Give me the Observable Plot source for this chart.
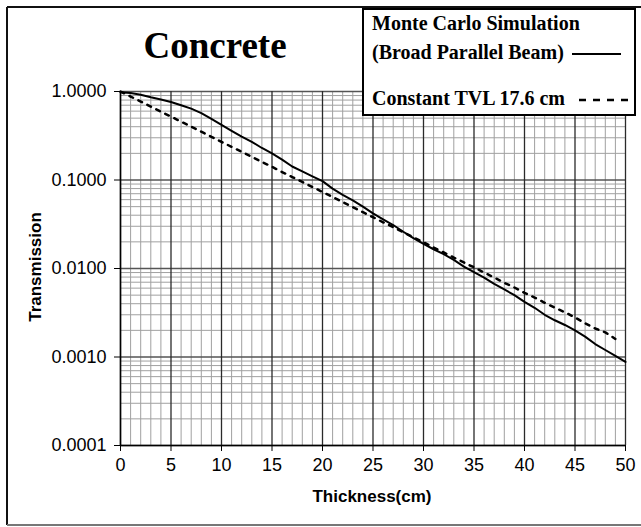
<!DOCTYPE html>
<html><head><meta charset="utf-8">
<script src="https://cdn.jsdelivr.net/npm/d3@7"></script>
<script src="https://cdn.jsdelivr.net/npm/@observablehq/plot@0.6"></script>
<style>
html,body{margin:0;padding:0;background:#fff;}
#chart{position:relative;width:641px;height:527px;overflow:hidden;}
</style></head><body><div id="chart"></div>
<script>
// Monte Carlo Simulation (Broad Parallel Beam)
const mcThickness = [0,1,2,3,4,5,6,7,8,9,10,11,12,13,14,15,16,17,18,19,20,21,22,23,24,25,26,27,28,29,30,31,32,33,34,35,36,37,38,39,40,41,42,43,44,45,46,47,48,49,50];
const mcTransmission = [0.98,0.96,0.92,0.86,0.81,0.76,0.70,0.64,0.57,0.49,0.42,0.36,0.31,0.27,0.23,0.20,0.17,0.142,0.125,0.11,0.097,0.08,0.068,0.059,0.05,0.042,0.036,0.031,0.026,0.022,0.019,0.0165,0.0145,0.0125,0.0105,0.0091,0.0079,0.0067,0.0058,0.005,0.0042,0.0036,0.003,0.0026,0.0023,0.002,0.0017,0.0014,0.0012,0.00103,0.00088];
// Constant TVL 17.6 cm
const tvlThickness = [0,1,2,3,4,5,6,7,8,9,10,11,12,13,14,15,16,17,18,19,20,21,22,23,24,25,26,27,28,29,30,31,32,33,34,35,36,37,38,39,40,41,42,43,44,45,46,47,48,49];
const tvlTransmission = [1.0,0.877,0.770,0.675,0.592,0.520,0.456,0.400,0.351,0.308,0.270,0.237,0.208,0.183,0.160,0.141,0.123,0.108,0.095,0.0834,0.0732,0.0642,0.0562,0.0494,0.0433,0.0380,0.0333,0.0293,0.0257,0.0225,0.0198,0.0173,0.0152,0.0133,0.0117,0.0103,0.0090,0.0079,0.0069,0.0061,0.0053,0.0047,0.0041,0.0036,0.0032,0.0028,0.0024,0.0021,0.0019,0.0016];

const xTicks = [0,5,10,15,20,25,30,35,40,45,50];
const xMinor = [1,2,3,4,6,7,8,9,11,12,13,14,16,17,18,19,21,22,23,24,26,27,28,29,31,32,33,34,36,37,38,39,41,42,43,44,46,47,48,49];
const yTicks = [0.0001,0.001,0.01,0.1,1];
const yMinor = [0.0002,0.0003,0.0004,0.0005,0.0006,0.0007,0.0008,0.0009,
  0.002,0.003,0.004,0.005,0.006,0.007,0.008,0.009,
  0.02,0.03,0.04,0.05,0.06,0.07,0.08,0.09,
  0.2,0.3,0.4,0.5,0.6,0.7,0.8,0.9];

const titleText = "Concrete";
const xLabel = "Thickness(cm)";
const yLabel = "Transmission";
const legendLines = ["Monte Carlo Simulation", "(Broad Parallel Beam)", "Constant TVL 17.6 cm"];

const mc = mcThickness.map((x, i) => ({x, y: mcTransmission[i]}));
const tvl = tvlThickness.map((x, i) => ({x, y: tvlTransmission[i]}));

const sans = "Arial, 'Liberation Sans', Helvetica, sans-serif";
const serif = "'Times New Roman', 'Liberation Serif', serif";

const plot = Plot.plot({
  width: 641, height: 527,
  marginLeft: 120, marginRight: 16, marginTop: 91, marginBottom: 82,
  style: {fontFamily: sans, fontSize: "17px", background: "transparent", color: "#000"},
  x: {domain: [0, 50], axis: null},
  y: {type: "log", domain: [0.0001, 1], axis: null},
  marks: [
    Plot.ruleX(xMinor, {stroke: "#a0a0a0", strokeWidth: 1}),
    Plot.ruleY(yMinor, {stroke: "#a0a0a0", strokeWidth: 1}),
    Plot.ruleY(yTicks, {stroke: "#555", strokeWidth: 1.3}),
    Plot.ruleX(xTicks, {stroke: "#2a2a2a", strokeWidth: 1.3}),
    Plot.ruleX([0], {stroke: "#000", strokeWidth: 1.5}),
    Plot.ruleY([0.0001], {stroke: "#000", strokeWidth: 1.5}),
    Plot.axisX(xTicks, {tickSize: 6, tickPadding: 7, fontSize: 18, label: null, tickFormat: d => String(d)}),
    Plot.axisY(yTicks, {tickSize: 6, tickPadding: 8, fontSize: 18, label: null, tickFormat: d3.format(".4f")}),
    Plot.line(tvl, {x: "x", y: "y", stroke: "#000", strokeWidth: 2.5, strokeDasharray: "4,6"}),
    Plot.line(mc, {x: "x", y: "y", stroke: "#000", strokeWidth: 2})
  ]
});

document.getElementById("chart").appendChild(plot);

const svg = d3.select(plot);
// outer frame
svg.append("line").attr("x1", 7).attr("y1", 7).attr("x2", 641).attr("y2", 7).attr("stroke", "#111").attr("stroke-width", 2);
svg.append("line").attr("x1", 7).attr("y1", 7).attr("x2", 7).attr("y2", 525).attr("stroke", "#111").attr("stroke-width", 2);
svg.append("line").attr("x1", 7).attr("y1", 525).attr("x2", 641).attr("y2", 525).attr("stroke", "#777").attr("stroke-width", 2);

// title
svg.append("text").attr("x", 215).attr("y", 58).attr("text-anchor", "middle")
  .attr("font-family", serif).attr("font-weight", "bold").attr("font-size", 37).text(titleText);

// axis labels
svg.append("text").attr("x", 372).attr("y", 502).attr("text-anchor", "middle")
  .attr("font-family", sans).attr("font-weight", "bold").attr("font-size", 17).text(xLabel);
svg.append("text").attr("transform", "translate(41,267) rotate(-90)").attr("text-anchor", "middle")
  .attr("font-family", sans).attr("font-weight", "bold").attr("font-size", 17).text(yLabel);

// legend
const lg = svg.append("g");
lg.append("rect").attr("x", 363).attr("y", 9).attr("width", 272).attr("height", 106)
  .attr("fill", "#fff").attr("stroke", "#000").attr("stroke-width", 2);
const ly = [30, 59, 105];
legendLines.forEach((t, i) => {
  lg.append("text").attr("x", 372).attr("y", ly[i]).attr("text-anchor", "start").attr("font-family", serif)
    .attr("font-weight", "bold").attr("font-size", 20).text(t);
});
lg.append("line").attr("x1", 572).attr("x2", 621).attr("y1", 54).attr("y2", 54)
  .attr("stroke", "#000").attr("stroke-width", 2);
lg.append("line").attr("x1", 579).attr("x2", 629).attr("y1", 100).attr("y2", 100)
  .attr("stroke", "#000").attr("stroke-width", 2.5).attr("stroke-dasharray", "7,7");
</script>
</body></html>
